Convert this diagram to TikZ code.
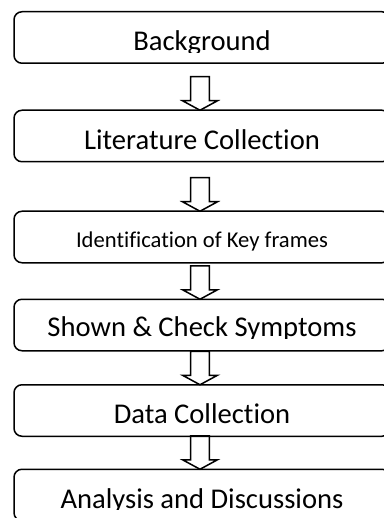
\documentclass[tikz,border=0pt]{standalone}
\usepackage{fontspec}
\setmainfont{Carlito}[Ligatures=NoCommon]
\usetikzlibrary{positioning, calc}

% cut the descenders off, as the source does
\newsavebox{\cutbox}
\newcommand{\cutdesc}[1]{%
  \sbox{\cutbox}{#1}%
  \tikz[baseline=0pt]{\clip[sharp corners] (0pt,-1.7pt) rectangle (\wd\cutbox,\ht\cutbox);
    \pgftext[base,left]{\usebox{\cutbox}}}}

\begin{document}
\begin{tikzpicture}[
    x=1pt, y=1pt,
    node distance=40pt,
    stage/.style={rectangle, draw, line width=1.5pt, rounded corners=8pt, minimum width=376pt, minimum height=51.5pt, inner ysep=0pt, outer sep=0pt, text height=39pt, text depth=12.5pt, font=\fontsize{28.6}{30}\selectfont},
    flow/.style={draw, line width=1.5pt, line join=miter},
]
\useasboundingbox (0,0) rectangle (383,-518);

% Stages
\node[stage] (bg) at (202,-37.5) {\cutdesc{Background}};
\node[stage, below=47pt of bg] (lit) {Literature Collection};
\node[stage, below=49.5pt of lit, font=\fontsize{22.6}{24}\selectfont, text height=36.5pt, text depth=15pt] (keyf) {Identification of Key frames};
\node[stage, below=36.5pt of keyf, text depth=14pt, text height=37.5pt] (check) {\cutdesc{Shown \& Check Symptoms}};
\node[stage, below=34pt of check] (data) {Data Collection};
\node[stage, below=33pt of data] (disc) {\cutdesc{Analysis and Discussions}};

% Block arrows, tip on the next stage
\foreach \b in {lit, keyf, check, data, disc}
  \draw[flow] ($(\b.north)+(-2,0)$) -- ++(-17.5,9.5) -- ++(8.2,0) -- ++(0,24)
    -- ++(18.6,0) -- ++(0,-24) -- ++(8.2,0) -- cycle;

\end{tikzpicture}
\end{document}
